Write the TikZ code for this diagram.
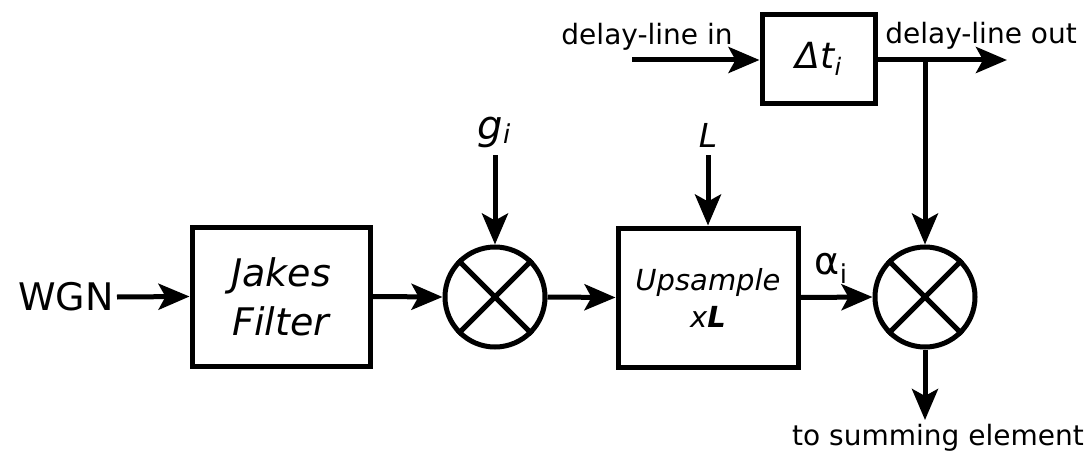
\documentclass[tikz,border=0pt]{standalone}
\usepackage{fontspec}
\setmainfont{DejaVu Sans}
\usetikzlibrary{arrows.meta}
\tikzset{
  arr/.style={line width=5pt,-{Stealth[length=31pt,width=26pt,inset=7pt]}},
  blk/.style={draw,line width=5pt,rectangle,inner sep=0pt,align=center},
  mult/.style={draw,line width=5pt,circle,minimum size=100pt,inner sep=0pt},
  lbl/.style={inner sep=0pt},
}
\newcommand{\fs}[2]{\fontsize{#1}{#2}\selectfont}
\begin{document}
\begin{tikzpicture}[x=1pt,y=-1pt]
\useasboundingbox (0,0) rectangle (1089,452);
% blocks
\node[blk,minimum width=178pt,minimum height=139pt,font=\fs{38}{49}\itshape] (jakes) at (281,296.5)
  {Jakes\\Filter};
\node[mult] (m1) at (495,297) {};
\node[blk,minimum width=180pt,minimum height=139pt,font=\fs{29}{37}\itshape] (up) at (708,297.5)
  {Upsample\\x\textbf{L}};
\node[mult] (m2) at (925,297) {};
\node[blk,minimum width=113pt,minimum height=88pt,font=\fs{36}{40}\itshape] (dt) at (818.5,59)
  {Δt\raisebox{-7pt}{\fs{24}{24}i}};
% crosses
\foreach \m in {m1,m2}{
  \draw[line width=5pt] (\m.north east) -- (\m.south west);
  \draw[line width=5pt] (\m.north west) -- (\m.south east);
}
% labels
\node[lbl,anchor=east] (wgn) at (114,297) {\fs{38}{38}WGN};
\node[lbl] (g) at (494,132) {\fs{40}{40}\itshape g\raisebox{-4pt}{\fs{26}{26}i}};
\node[lbl] (L) at (708,135) {\fs{33}{33}\itshape L};
\node[lbl] (alpha) at (831,268) {\fs{38}{38}α\raisebox{-9pt}{\fs{26}{26}i}};
\node[lbl] (dlin) at (647,37) {\fs{28}{28}delay-line in};
\node[lbl] (dlout) at (981,36) {\fs{28}{28}delay-line out};
\node[lbl] (sum) at (938,438) {\fs{28}{28}to summing element};
% coordinates
\coordinate (gs) at (495,155);
\coordinate (Ls) at (708,155);
\coordinate (din) at (632,60);
\coordinate (dout) at (1007,60);
\coordinate (br) at (925,60);
\coordinate (send) at (925,420);
% connectors
\draw[arr] (wgn.east) ++(3,0) -- (jakes.west);
\draw[arr] (jakes.east) -- (m1.west);
\draw[arr] (gs) -- (m1.north);
\draw[arr] (m1.east) -- (up.west);
\draw[arr] (Ls) -- (up.north);
\draw[arr] (up.east) -- (m2.west);
\draw[arr] (din) -- (din -| dt.west);
\draw[arr] (dt.east |- dout) -- (dout);
\draw[arr] (br) -- (m2.north);
\draw[arr] (m2.south) -- (send);
\end{tikzpicture}
\end{document}
